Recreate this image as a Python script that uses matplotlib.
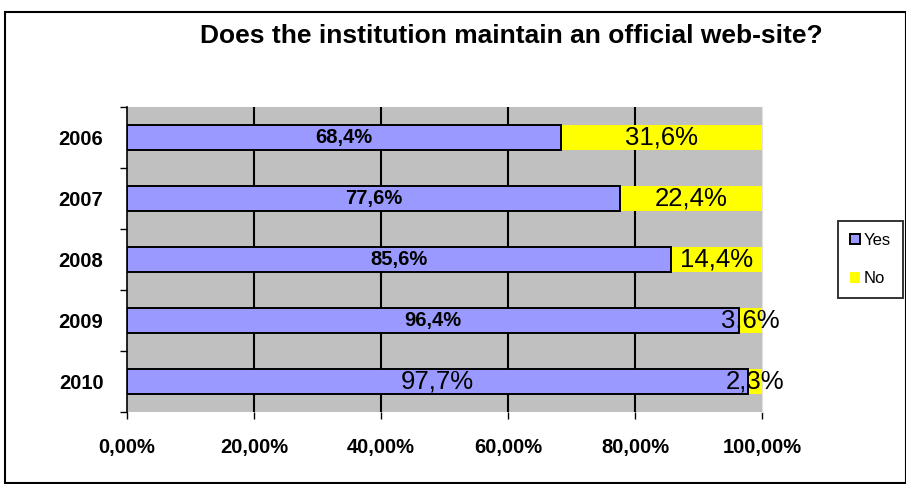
import matplotlib.pyplot as plt
import matplotlib.patches as patches

plt.rcParams['font.family'] = ['Liberation Sans', 'DejaVu Sans']

years = ['2006', '2007', '2008', '2009', '2010']
yes = [68.4, 77.6, 85.6, 96.4, 97.7]
no = [31.6, 22.4, 14.4, 3.6, 2.3]
yes_labels = ['68,4%', '77,6%', '85,6%', '96,4%', '97,7%']
no_labels = ['31,6%', '22,4%', '14,4%', '3,6%', '2,3%']
xticks = [0, 20, 40, 60, 80, 100]
xtick_labels = ['0,00%', '20,00%', '40,00%', '60,00%', '80,00%', '100,00%']

fig = plt.figure(figsize=(9.06, 4.84), dpi=100)
ax = fig.add_axes([0.1402, 0.1488, 0.701, 0.630])
ax.set_facecolor('#C0C0C0')

pos = list(range(len(years)))[::-1]
h = 0.4
ax.barh(pos, yes, height=h, color='#9999FF', edgecolor='black', linewidth=1.4, label='Yes', zorder=3)
ax.barh(pos, no, left=yes, height=h, color='#FFFF00', edgecolor='none', label='No', zorder=2)

for p, y, n, yl, nl in zip(pos, yes, no, yes_labels, no_labels):
    if y > 97:
        ax.text(y / 2, p, yl, ha='center', va='center', fontsize=18.5, zorder=5)
    else:
        ax.text(y / 2, p, yl, ha='center', va='center', fontsize=14.5, fontweight='bold', zorder=5)
    ax.text(y + n / 2, p, nl, ha='center', va='center', fontsize=18.5, zorder=5, clip_on=False)

ax.set_xlim(0, 100)
ax.set_ylim(-0.5, 4.5)
ax.set_xticks(xticks)
ax.set_xticklabels(xtick_labels, fontsize=14.5, fontweight='bold')
ax.set_yticks(pos)
ax.set_yticklabels(years, fontsize=14.5, fontweight='bold')
ax.set_yticks([-0.5 + i for i in range(6)], minor=True)
ax.tick_params(axis='y', which='major', length=0, pad=17)
ax.tick_params(axis='y', which='minor', length=5, direction='out', width=1)
ax.tick_params(axis='x', length=5, direction='out', width=1, pad=14)

for x in xticks[1:-1]:
    ax.axvline(x, color='black', linewidth=1.5, zorder=1)

for s in ['top', 'bottom']:
    ax.spines[s].set_visible(False)
ax.spines['right'].set_color('#E0E0E0')
ax.spines['left'].set_color('black')
ax.spines['left'].set_linewidth(1.2)

fig.text(0.564, 0.925, 'Does the institution maintain an official web-site?',
         ha='center', va='center', fontsize=19, fontweight='bold')

leg = fig.legend(loc='center left', bbox_to_anchor=(0.925, 0.464), fontsize=12,
                 frameon=True, fancybox=False, edgecolor='black', handlelength=0.6,
                 handleheight=0.6, handletextpad=0.25, borderpad=0.7, labelspacing=1.4,
                 borderaxespad=0)
leg.get_frame().set_linewidth(1.4)

fig.patches.append(patches.Rectangle((5 / 906, 0.002), 1 - 5 / 906, 1 - 12 / 484 - 0.002,
                                     transform=fig.transFigure, fill=False,
                                     edgecolor='black', linewidth=1.5))

fig.savefig('out.png', dpi=100)
